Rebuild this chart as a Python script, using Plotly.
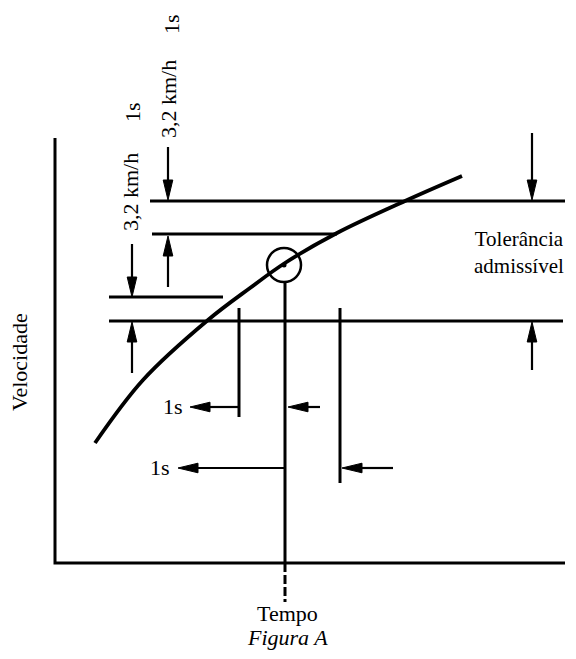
import plotly.graph_objects as go

# ---- diagram data (drawing units, y grows downward) ----
axis_x = [55, 55, 565]
axis_y = [138, 563, 563]

curve_x = [95, 143, 208, 250, 285, 337, 405, 462]
curve_y = [443, 380, 320, 288, 263, 233, 201, 176]

hline_y = [201, 234, 297, 321]
hline_x0 = [150, 152, 109, 109]
hline_x1 = [565, 337, 223, 563]

vline_x = [285, 239, 340]
vline_y0 = [282, 308, 308]
vline_y1 = [563, 417, 483]

dash_x = [285, 285]
dash_y = [563, 602]

circle_center = (284, 265)
circle_r = 17

# arrows: (tail_x, tail_y, tip_x, tip_y)
arrow_tail_x = [239, 320, 285, 393, 132, 132, 168, 168, 532, 532]
arrow_tail_y = [407, 407, 468, 468, 244, 373, 147, 287, 133, 370]
arrow_tip_x = [190, 288, 178, 342, 132, 132, 168, 168, 532, 532]
arrow_tip_y = [407, 407, 468, 468, 297, 322, 200, 236, 200, 322]

label_text = ["1s", "1s", "3,2 km/h", "1s", "3,2 km/h", "1s"]
label_x = [173, 160, 130, 132, 168, 171]
label_y = [406, 467, 192, 112, 99, 24]
label_angle = [0, 0, -90, -90, -90, -90]

FONT = "Liberation Serif"
FS = 22

# page body has an 8px default margin: the plot div starts at (8, 8)
OFF = 8
W, H = 576, 659

fig = go.Figure()

fig.add_trace(go.Scatter(x=axis_x, y=axis_y, mode="lines",
                         line=dict(color="black", width=3), hoverinfo="skip"))
fig.add_trace(go.Scatter(x=curve_x, y=curve_y, mode="lines",
                         line=dict(color="black", width=3.8, shape="spline", smoothing=1.0),
                         hoverinfo="skip"))
hx, hy = [], []
for y, a, b in zip(hline_y, hline_x0, hline_x1):
    hx += [a, b, None]
    hy += [y, y, None]
fig.add_trace(go.Scatter(x=hx, y=hy, mode="lines",
                         line=dict(color="black", width=3), hoverinfo="skip"))
vx, vy = [], []
for x, a, b in zip(vline_x, vline_y0, vline_y1):
    vx += [x, x, None]
    vy += [a, b, None]
fig.add_trace(go.Scatter(x=vx, y=vy, mode="lines",
                         line=dict(color="black", width=3), hoverinfo="skip"))
fig.add_trace(go.Scatter(x=dash_x, y=dash_y, mode="lines",
                         line=dict(color="black", width=3, dash="9px,3px"), hoverinfo="skip"))
fig.add_trace(go.Scatter(x=[circle_center[0]], y=[circle_center[1]], mode="markers",
                         marker=dict(color="black", size=5), hoverinfo="skip"))

shapes = []
cx, cy = circle_center
shapes.append(dict(type="circle", xref="x", yref="y",
                   x0=cx - circle_r, x1=cx + circle_r, y0=cy - circle_r, y1=cy + circle_r,
                   line=dict(color="black", width=2.5)))

HEAD_L, HEAD_W = 20, 4.8
sx, sy = [], []
for tx, ty, px, py in zip(arrow_tail_x, arrow_tail_y, arrow_tip_x, arrow_tip_y):
    dx, dy = px - tx, py - ty
    n = (dx * dx + dy * dy) ** 0.5
    ux, uy = dx / n, dy / n
    bx, by = px - ux * HEAD_L, py - uy * HEAD_L
    sx += [tx, bx, None]
    sy += [ty, by, None]
    nx, ny = -uy, ux
    path = (f"M{px},{py} L{bx + nx * HEAD_W},{by + ny * HEAD_W} "
            f"L{bx - nx * HEAD_W},{by - ny * HEAD_W} Z")
    shapes.append(dict(type="path", xref="x", yref="y", path=path,
                       fillcolor="black", line=dict(color="black", width=1)))
fig.add_trace(go.Scatter(x=sx, y=sy, mode="lines",
                         line=dict(color="black", width=2.2), hoverinfo="skip"))

annotations = []
for t, x, y, a in zip(label_text, label_x, label_y, label_angle):
    annotations.append(dict(text=t, x=x, y=y, xref="x", yref="y", showarrow=False,
                            textangle=a, font=dict(family=FONT, size=FS, color="black")))
annotations += [
    dict(text="Tolerância<br>admissível", x=519, y=252, xref="x", yref="y",
         showarrow=False, align="center",
         font=dict(family=FONT, size=21, color="black")),
    dict(text="Velocidade", x=19, y=362, xref="x", yref="y", showarrow=False,
         textangle=-90, font=dict(family=FONT, size=FS, color="black")),
    dict(text="Tempo", x=287, y=613, xref="x", yref="y", showarrow=False,
         font=dict(family=FONT, size=FS, color="black")),
    dict(text="<i>Figura A</i>", x=287, y=637, xref="x", yref="y", showarrow=False,
         font=dict(family=FONT, size=FS, color="black")),
]

fig.update_layout(
    width=W - 2 * OFF, height=H - 2 * OFF,
    margin=dict(l=0, r=0, t=0, b=0, pad=0),
    paper_bgcolor="white", plot_bgcolor="white",
    showlegend=False,
    xaxis=dict(range=[OFF, W - OFF], visible=False, fixedrange=True),
    yaxis=dict(range=[H - OFF, OFF], visible=False, fixedrange=True),
    shapes=shapes, annotations=annotations,
)

fig.write_html("out.html")
